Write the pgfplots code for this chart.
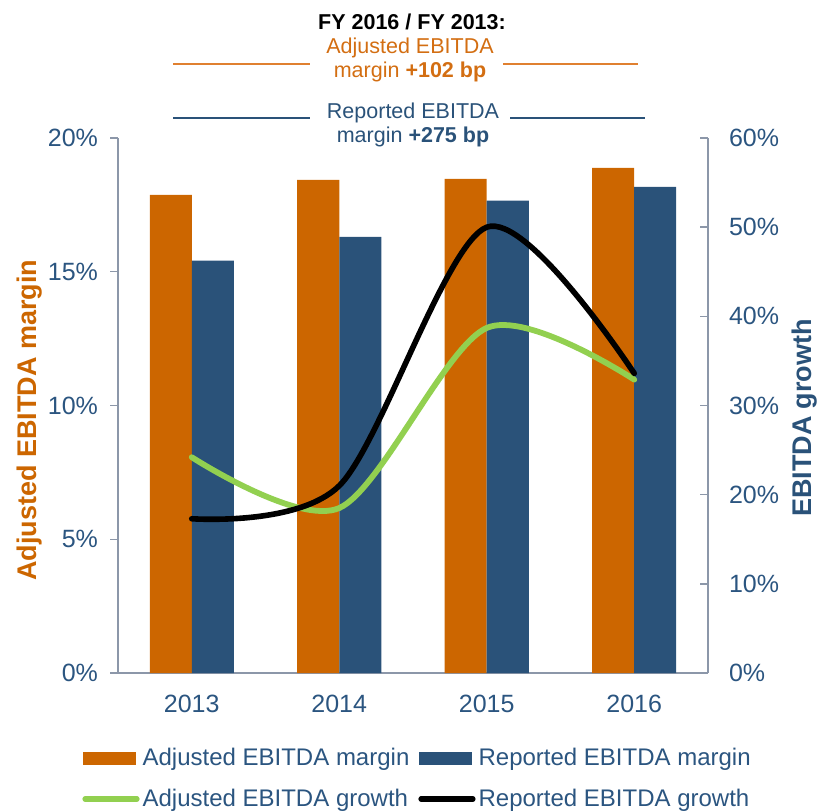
\documentclass[border=0pt]{standalone}
\usepackage{pgfplots}
\pgfplotsset{compat=1.18}
\usepackage{fontspec}
\setmainfont{Liberation Sans}

\definecolor{barorange}{HTML}{CC6600}
\definecolor{barblue}{HTML}{2A5279}
\definecolor{linegreen}{HTML}{92D050}
\definecolor{axisgray}{HTML}{8C97A9}
\definecolor{ticktext}{HTML}{2B5580}
\definecolor{titleorange}{HTML}{D36E12}
\definecolor{ruleorange}{HTML}{E08030}

\begin{document}
\begin{tikzpicture}
\path[use as bounding box] (0pt,0pt) rectangle (409.5pt,-406pt);

% left axis: margins as bars
\begin{axis}[
  at={(59pt,-336.5pt)}, anchor=south west,
  scale only axis, width=295pt, height=267.5pt,
  xmin=-0.5, xmax=3.5, ymin=0, ymax=20,
  ybar=0pt, bar width=21pt,
  axis y line*=left, axis x line*=bottom,
  axis line style={draw=axisgray, line width=0.75pt, -},
  xtick={0,1,2,3}, xticklabels={2013,2014,2015,2016},
  x tick style={draw=none},
  ytick={0,5,10,15,20}, yticklabels={0\%,5\%,10\%,15\%,20\%},
  y tick style={draw=axisgray, line width=0.75pt},
  tick align=outside, major tick length=4pt,
  tick label style={font=\fontsize{12.5}{14}\selectfont, text=ticktext},
  yticklabel style={xshift=-2.5pt},
  xticklabel style={yshift=-3.5pt},
  clip=false,
]
\addplot[fill=barorange, draw=none] coordinates {(0,17.87) (1,18.43) (2,18.47) (3,18.88)};
\addplot[fill=barblue, draw=none] coordinates {(0,15.42) (1,16.30) (2,17.66) (3,18.17)};
\end{axis}

% right axis: growth as smoothed lines
\begin{axis}[
  at={(59pt,-336.5pt)}, anchor=south west,
  scale only axis, width=295pt, height=267.5pt,
  xmin=-0.5, xmax=3.5, ymin=0, ymax=60,
  axis y line*=right, axis x line=none,
  axis line style={draw=axisgray, line width=0.75pt, -},
  ytick={0,10,20,30,40,50,60},
  yticklabels={0\%,10\%,20\%,30\%,40\%,50\%,60\%},
  y tick style={draw=axisgray, line width=0.75pt},
  tick align=inside, major tick length=4pt,
  tick label style={font=\fontsize{12.5}{14}\selectfont, text=ticktext},
  yticklabel style={xshift=7pt},
  clip=false,
  legend columns=2,
  legend cell align=left,
  legend style={draw=none, fill=none, inner sep=0pt,
    at={(axis description cs:-0.061,-0.1326)}, anchor=north west,
    font=\fontsize{12}{13}\selectfont, text=ticktext,
    nodes={inner xsep=1.5pt, inner ysep=2pt},
    row sep=6pt, /tikz/every even column/.append style={column sep=3pt}},
]
\addlegendimage{legend image code/.code={\fill[barorange] (0pt,-3pt) rectangle (26pt,3pt);}}
\addlegendimage{legend image code/.code={\fill[barblue] (0pt,-3pt) rectangle (26pt,3pt);}}
\addplot[smooth, tension=0.5, color=linegreen, line width=2.9pt, line cap=round,
  legend image code/.code={\draw[linegreen, line width=2.6pt, line cap=round] (1pt,0pt) -- (27pt,0pt);}]
  coordinates {(0,24.2) (1,18.5) (2,38.7) (3,32.9)};
\addplot[smooth, tension=0.5, color=black, line width=2.8pt, line cap=round,
  legend image code/.code={\draw[black, line width=2.6pt, line cap=round] (1pt,0pt) -- (27pt,0pt);}]
  coordinates {(0,17.3) (1,21.0) (2,50.0) (3,33.6)};
\legend{Adjusted EBITDA margin, Reported EBITDA margin, Adjusted EBITDA growth, Reported EBITDA growth}
\end{axis}

% axis titles
\node[rotate=90, text=barorange, font=\bfseries\fontsize{13.5}{15}\selectfont] at (15pt,-210pt) {Adjusted EBITDA margin};
\node[rotate=90, text=barblue, font=\bfseries\fontsize{13.5}{15}\selectfont] at (402.5pt,-209pt) {EBITDA growth};

% header block
\node[font=\bfseries\fontsize{10.75}{12}\selectfont] at (206pt,-10.8pt) {FY 2016 / FY 2013:};
\node[align=center, text=titleorange, font=\fontsize{10.75}{12}\selectfont] at (205pt,-30pt) {Adjusted EBITDA\\margin \textbf{+102 bp}};
\node[align=center, text=barblue, font=\fontsize{10.75}{12}\selectfont] at (206.5pt,-62.5pt) {Reported EBITDA\\margin \textbf{+275 bp}};
\draw[ruleorange, line width=1pt] (86.5pt,-32pt) -- (155pt,-32pt) (251.5pt,-32pt) -- (319pt,-32pt);
\draw[barblue, line width=1pt] (86.5pt,-59pt) -- (155pt,-59pt) (255pt,-59pt) -- (322.5pt,-59pt);
\end{tikzpicture}
\end{document}
